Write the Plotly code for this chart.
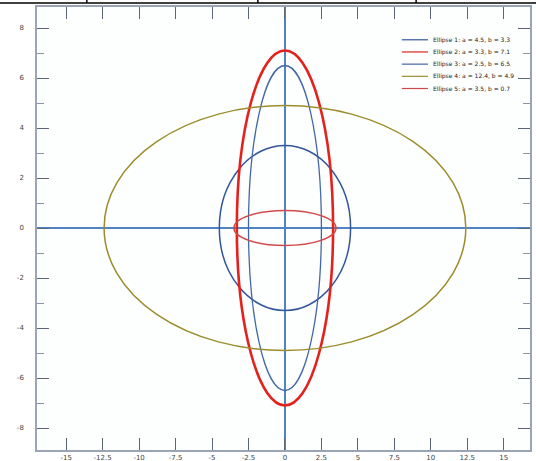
import plotly.graph_objects as go

# Ellipses centred on the origin, described by their semi-axes
curve_names = [
    "Ellipse 1: a = 4.5, b = 3.3",
    "Ellipse 2: a = 3.3, b = 7.1",
    "Ellipse 3: a = 2.5, b = 6.5",
    "Ellipse 4: a = 12.4, b = 4.9",
    "Ellipse 5: a = 3.5, b = 0.7",
]
semi_a = [4.5, 3.3, 2.5, 12.4, 3.5]
semi_b = [3.3, 7.1, 6.5, 4.9, 0.7]

x_ticks = [-15, -12.5, -10, -7.5, -5, -2.5, 0, 2.5, 5, 7.5, 10, 12.5, 15]
x_labels = ["-15", "-12.5", "-10", "-7.5", "-5", "-2.5", "0", "2.5", "5", "7.5", "10", "12.5", "15"]
y_ticks = [-8, -6, -4, -2, 0, 2, 4, 6, 8]
y_labels = ["-8", "-6", "-4", "-2", "0", "2", "4", "6", "8"]

colors = ["#34569a", "#e3211d", "#4467a6", "#9c8d2c", "#cf4a48"]
widths = [1.5, 2.6, 1.3, 1.5, 1.5]

fig = go.Figure()
# invisible trace so the axes get built
fig.add_trace(go.Scatter(x=[0], y=[0], mode="markers", marker=dict(opacity=0),
                         showlegend=False, hoverinfo="skip"))

for i, (name, a, b, c, w) in enumerate(zip(curve_names, semi_a, semi_b, colors, widths)):
    fig.add_shape(type="circle", xref="x", yref="y", x0=-a, x1=a, y0=-b, y1=b,
                  line=dict(color=c, width=w))
    # hand-made legend (plotly's own rows are too tall for this spacing)
    ly = 0.926 - i * 0.0275
    fig.add_shape(type="line", xref="paper", yref="paper", x0=0.740, x1=0.793, y0=ly, y1=ly,
                  line=dict(color=c, width=1.2))
    fig.add_annotation(xref="paper", yref="paper", x=0.799, y=ly, text=name, showarrow=False,
                       xanchor="left", yanchor="middle",
                       font=dict(family="DejaVu Sans", size=6, color="#222222"))

# border lines of the page the chart was cut out of
fig.add_shape(type="line", xref="paper", yref="paper", x0=-0.08, x1=1.02, y0=1.009, y1=1.009,
              line=dict(color="black", width=1.5))
for xp in [0.101, 0.448, 0.769]:
    fig.add_shape(type="line", xref="paper", yref="paper", x0=xp, x1=xp, y0=1.009, y1=1.02,
                  line=dict(color="black", width=1.5))

axis_common = dict(
    showgrid=False, automargin=False,
    zeroline=True, zerolinecolor="#4f83c2", zerolinewidth=1.5,
    showline=True, linecolor="#9aa4b4", linewidth=1.5, mirror="ticks",
    ticks="inside", ticklen=12, tickcolor="#5a6578", tickwidth=1,
    tickfont=dict(family="DejaVu Sans", size=7, color="#444444"),
)

fig.update_xaxes(range=[-17.0, 16.8], tickvals=x_ticks, ticktext=x_labels, **axis_common)
fig.update_yaxes(range=[-8.88, 8.84], tickvals=y_ticks, ticktext=y_labels,
                 ticklabelstandoff=10,
                 minor=dict(ticks="inside", ticklen=7, tickcolor="#8a94a6", dtick=1, tick0=0),
                 **axis_common)

fig.update_layout(
    width=536, height=461,
    margin=dict(l=37, r=6, t=7, b=11),
    paper_bgcolor="white",
    plot_bgcolor="#fdfefe",
    showlegend=False,
)

fig.write_html("out.html", config={"displayModeBar": False},
               post_script="document.body.style.margin='0';")
